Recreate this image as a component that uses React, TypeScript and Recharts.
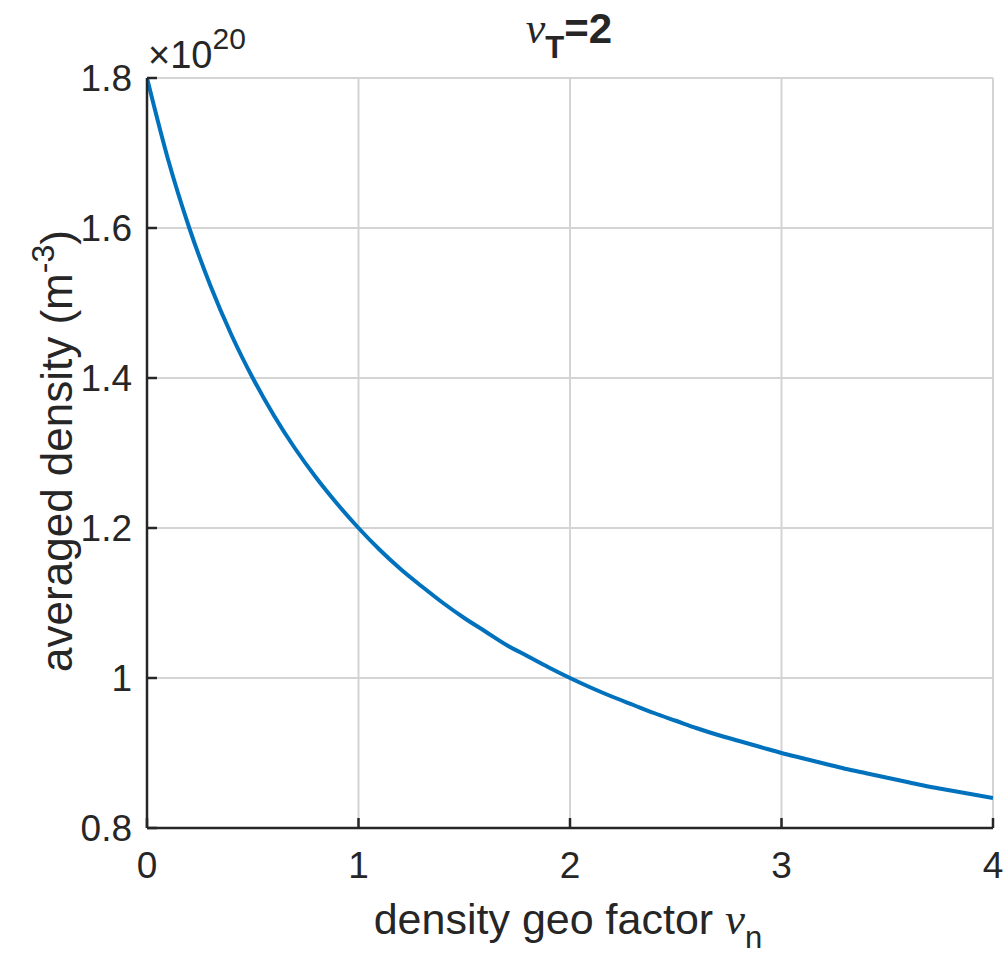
import React from "react";
import { CartesianGrid, Customized, Line, LineChart, XAxis, YAxis } from "recharts";

// density geo factor nu_n
const nuN = [
    0, 0.1, 0.2, 0.3, 0.4, 0.5, 0.6, 0.7, 0.8, 0.9, 1, 1.1, 1.2, 1.3, 1.4, 1.5, 1.6, 1.7, 1.8, 1.9, 2,
    2.1, 2.2, 2.3, 2.4, 2.5, 2.6, 2.7, 2.8, 2.9, 3, 3.1, 3.2, 3.3, 3.4, 3.5, 3.6, 3.7, 3.8, 3.9, 4,
];
// averaged density, in units of 1e20 m^-3
const avgDensity = [
    1.8, 1.691, 1.6, 1.523, 1.457, 1.4, 1.35, 1.306, 1.267, 1.232, 1.2, 1.171, 1.145, 1.122, 1.1, 1.08,
    1.062, 1.044, 1.029, 1.014, 1.0, 0.987, 0.975, 0.964, 0.953, 0.943, 0.933, 0.924, 0.916, 0.908, 0.9,
    0.893, 0.886, 0.879, 0.873, 0.867, 0.861, 0.855, 0.85, 0.845, 0.84,
];
const xTicks = [0, 1, 2, 3, 4];
const yTicks = [0.8, 1, 1.2, 1.4, 1.6, 1.8];

const FONT = "'Liberation Sans', Arial, Helvetica, sans-serif";
const SERIF = "'Liberation Serif', 'Times New Roman', serif";
const INK = "#262626";

const data = nuN.map((x, i) => ({ x, y: avgDensity[i] }));

function Annotations() {
    return (
        <g fill={INK} fontFamily={FONT}>
            {/* title */}
            <text x={569} y={43} textAnchor="middle" fontWeight="bold" fontSize={42}>
                <tspan fontFamily={SERIF} fontStyle="italic" fontWeight="normal" fontSize={44}>ν</tspan>
                <tspan fontSize={31} dy={15}>T</tspan>
                <tspan dy={-15}>=2</tspan>
            </text>
            {/* exponent */}
            <text x={148} y={68} fontSize={38}>
                ×10<tspan fontSize={30} dy={-19}>20</tspan>
            </text>
            {/* x label */}
            <text x={568} y={934} textAnchor="middle" fontSize={43}>
                density geo factor <tspan fontFamily={SERIF} fontStyle="italic" fontSize={45}>ν</tspan>
                <tspan fontSize={31} dy={14}>n</tspan>
            </text>
            {/* y label */}
            <text x={72} y={451} textAnchor="middle" fontSize={44} transform="rotate(-90, 72, 451)">
                averaged density (m<tspan fontSize={32} dy={-18}>-3</tspan>
                <tspan dy={18}>)</tspan>
            </text>
        </g>
    );
}

export default function App() {
    const tickStyle = { fill: INK, fontSize: 37, fontFamily: FONT };
    const axisStroke = { stroke: INK, strokeWidth: 2.5 };
    return (
        <div style={{ position: "absolute", left: 0, top: 0, width: 1004, height: 956, background: "#fff" }}>
            <LineChart width={1004} height={956} data={data} margin={{ top: 78, right: 11, bottom: 0, left: 0 }}>
                <CartesianGrid stroke="#d4d4d4" strokeWidth={2} />
                <XAxis
                    dataKey="x"
                    type="number"
                    domain={[0, 4]}
                    ticks={xTicks}
                    allowDataOverflow
                    height={128}
                    tick={tickStyle}
                    tickSize={-10}
                    tickMargin={34}
                    axisLine={axisStroke}
                    tickLine={axisStroke}
                />
                <XAxis
                    xAxisId="top"
                    orientation="top"
                    dataKey="x"
                    type="number"
                    domain={[0, 4]}
                    ticks={xTicks}
                    height={0}
                    tick={() => <g />}
                    tickSize={-10}
                    axisLine={axisStroke}
                    tickLine={axisStroke}
                />
                <YAxis
                    type="number"
                    domain={[0.8, 1.8]}
                    ticks={yTicks}
                    allowDataOverflow
                    width={147}
                    tick={tickStyle}
                    tickSize={-10}
                    tickMargin={25}
                    axisLine={axisStroke}
                    tickLine={axisStroke}
                />
                <YAxis
                    yAxisId="right"
                    orientation="right"
                    type="number"
                    domain={[0.8, 1.8]}
                    ticks={yTicks}
                    width={0}
                    tick={() => <g />}
                    tickSize={-10}
                    axisLine={axisStroke}
                    tickLine={axisStroke}
                />
                <Line
                    type="monotone"
                    dataKey="y"
                    stroke="#0072BD"
                    strokeWidth={4}
                    dot={false}
                    isAnimationActive={false}
                />
                <Customized component={<Annotations />} />
            </LineChart>
        </div>
    );
}
